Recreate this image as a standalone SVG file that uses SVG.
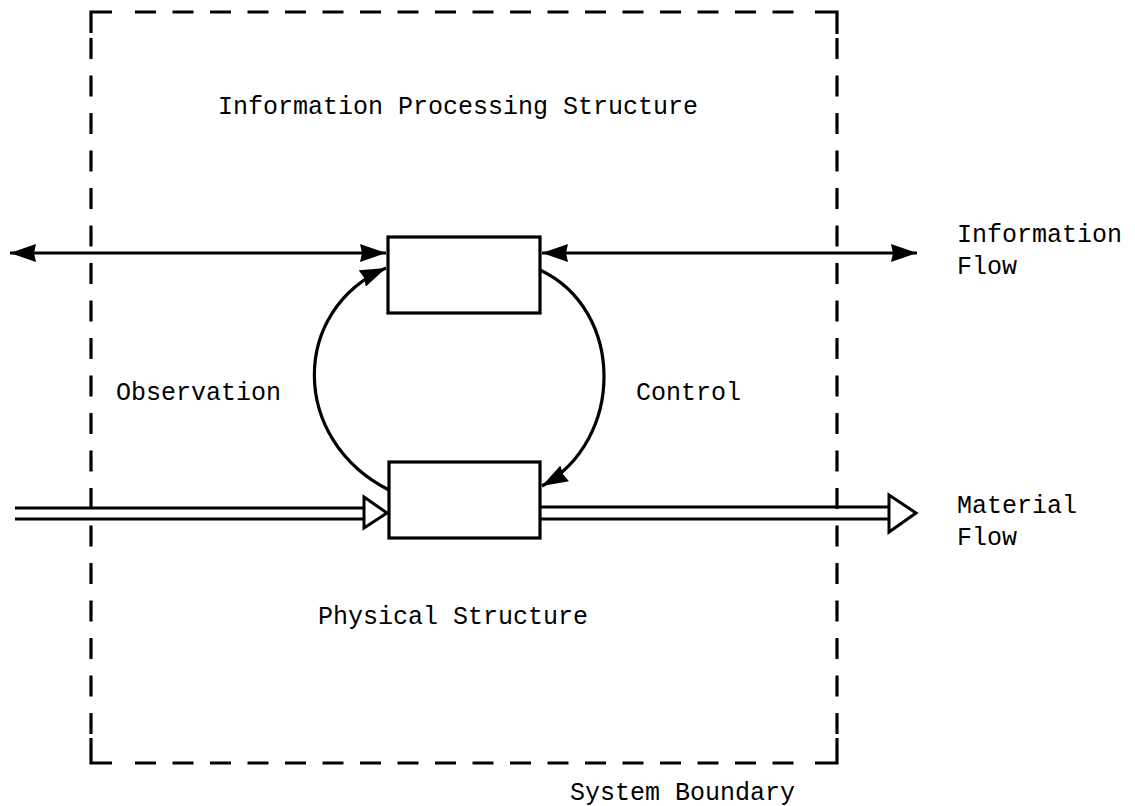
<svg xmlns="http://www.w3.org/2000/svg" width="1135" height="806" viewBox="0 0 1135 806">
<defs>
<style>
.t{font-family:"Liberation Mono","Courier New",monospace;font-size:25px;fill:#000}
.ln{stroke:#000;stroke-width:3.2;fill:none}
.dash{stroke:#000;stroke-width:3.2;fill:none;stroke-dasharray:21 16.5}
.box{stroke:#000;stroke-width:3.2;fill:#fff}
.hollow{stroke:#000;stroke-width:3;fill:#fff;stroke-linejoin:miter}
</style>
<marker id="ah" viewBox="0 0 26 18" refX="26" refY="9" markerWidth="26" markerHeight="18" markerUnits="userSpaceOnUse" orient="auto-start-reverse">
<path d="M0,0 L26,9 L0,18 L2,9 Z" fill="#000"/>
</marker>
</defs>
<rect width="1135" height="806" fill="#fff"/>
<g id="boundary">
<path class="ln" d="M91,33 V12 H112"/>
<path class="ln" d="M815,12 H837 V34"/>
<path class="ln" d="M91,738 V763 H112"/>
<path class="ln" d="M815,763 H837 V738"/>
<line class="dash" x1="135" y1="12" x2="794" y2="12"/>
<line class="dash" x1="135" y1="763" x2="794" y2="763"/>
<line class="dash" x1="91" y1="38" x2="91" y2="736"/>
<line class="dash" x1="837" y1="38" x2="837" y2="736"/>
</g>
<g id="connectors">
<line class="ln" x1="10" y1="253" x2="386" y2="253" stroke-width="3.5" marker-start="url(#ah)" marker-end="url(#ah)"/>
<line class="ln" x1="542" y1="253" x2="917" y2="253" stroke-width="3.5" marker-start="url(#ah)" marker-end="url(#ah)"/>
<path class="ln" d="M389,490 C290,440 290,310 386,268" marker-end="url(#ah)"/>
<path class="ln" d="M540,270 C625,310 625,440 542,486" marker-end="url(#ah)"/>
<line class="ln" x1="15" y1="508" x2="364" y2="508"/>
<line class="ln" x1="15" y1="519" x2="364" y2="519"/>
<path class="hollow" d="M364,497 L387,513 L364,528 Z"/>
<line class="ln" x1="540" y1="507" x2="889" y2="507"/>
<line class="ln" x1="540" y1="519" x2="889" y2="519"/>
<path class="hollow" d="M889,495 L916,513 L889,532 Z"/>
</g>
<g id="info-node"><rect class="box" x="388" y="237" width="152" height="76"/></g>
<g id="physical-node"><rect class="box" x="389" y="462" width="151" height="76"/></g>
<g id="labels">
<text class="t" x="218" y="114">Information Processing Structure</text>
<text class="t" x="116" y="400">Observation</text>
<text class="t" x="636" y="400">Control</text>
<text class="t" x="318" y="624">Physical Structure</text>
<text class="t" x="957" y="242">Information</text>
<text class="t" x="957" y="274">Flow</text>
<text class="t" x="957" y="513">Material</text>
<text class="t" x="957" y="545">Flow</text>
<text class="t" x="570" y="800">System Boundary</text>
</g>
</svg>
